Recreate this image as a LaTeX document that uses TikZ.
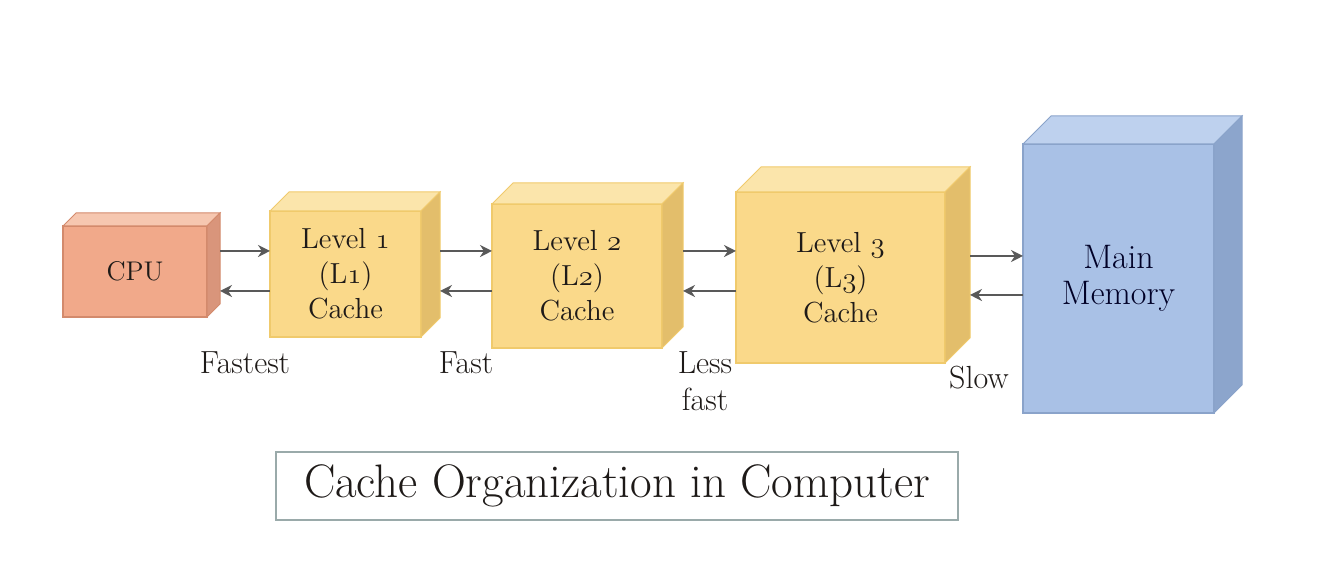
\documentclass[tikz,border=0pt]{standalone}
\usepackage{xcolor}
\usetikzlibrary{positioning}
\usetikzlibrary{calc}
\usetikzlibrary{arrows.meta}

\definecolor{cpufront}{HTML}{F1A98A}
\definecolor{cputop}{HTML}{F6C7B0}
\definecolor{cpuside}{HTML}{D9957B}
\definecolor{cpuline}{HTML}{D38A6C}
\definecolor{cachefront}{HTML}{FAD98A}
\definecolor{cachetop}{HTML}{FBE5AB}
\definecolor{cacheside}{HTML}{E3BE6B}
\definecolor{cacheline}{HTML}{F0CA6C}
\definecolor{memfront}{HTML}{A9C1E6}
\definecolor{memtop}{HTML}{BED1EE}
\definecolor{memside}{HTML}{8CA5CC}
\definecolor{memline}{HTML}{8AA3CA}
\definecolor{arrowgray}{HTML}{595959}
\definecolor{titleline}{HTML}{9AAAAA}
\definecolor{textdark}{HTML}{1E1A18}

% top and side faces of a box: node, depth, top, side, line
\newcommand{\cubefaces}[5]{%
  \filldraw[fill=#3,draw=#5,line width=0.5pt] (#1.north west) -- ++(#2,#2) -- ($(#1.north east)+(#2,#2)$) -- (#1.north east) -- cycle;
  \filldraw[fill=#4,draw=#5,line width=0.5pt] (#1.north east) -- ++(#2,#2) -- ($(#1.south east)+(#2,#2)$) -- (#1.south east) -- cycle;
}

\begin{document}
\begin{tikzpicture}[x=0.5pt,y=0.5pt,
    unit/.style={draw,line width=0.6pt,inner sep=2pt,outer sep=0pt,align=center,
        text=textdark,font=\fontsize{14.5}{17.5}\selectfont},
    flow/.style={-{Stealth[length=6pt,width=6pt]},line width=1.4pt,draw=arrowgray},
    lbl/.style={align=center,text=textdark,font=\fontsize{16}{18.5}\selectfont}]

    \useasboundingbox (0,0) rectangle (1330,582);

    \node[unit,fill=cpufront,draw=cpuline,minimum width=72pt,minimum height=45.5pt,
        font=\fontsize{13.5}{16}\selectfont] (cpu) at (135,310.5) {CPU};
    \node[unit,fill=cachefront,draw=cacheline,minimum width=75.5pt,minimum height=63pt,
        right=31.5pt of cpu,yshift=-1.25pt] (l1) {Level \legacyoldstylenums{1}\\(L\legacyoldstylenums{1})\\Cache};
    \node[unit,fill=cachefront,draw=cacheline,minimum width=85pt,minimum height=72pt,
        right=35.5pt of l1,yshift=-1pt] (l2) {Level \legacyoldstylenums{2}\\(L\legacyoldstylenums{2})\\Cache};
    \node[unit,fill=cachefront,draw=cacheline,minimum width=104.5pt,minimum height=85.5pt,
        right=37pt of l2,yshift=-0.75pt] (l3) {Level \legacyoldstylenums{3}\\(L\legacyoldstylenums{3})\\Cache};
    \node[unit,fill=memfront,draw=memline,minimum width=95.5pt,minimum height=134.5pt,
        right=39pt of l3,yshift=-0.5pt,text=black!85!blue,
        font=\fontsize{17}{18}\selectfont] (mem) {Main\\Memory};

    \cubefaces{cpu}{6.5pt}{cputop}{cpuside}{cpuline}
    \cubefaces{l1}{9.5pt}{cachetop}{cacheside}{cacheline}
    \cubefaces{l2}{10.5pt}{cachetop}{cacheside}{cacheline}
    \cubefaces{l3}{12.5pt}{cachetop}{cacheside}{cacheline}
    \cubefaces{mem}{14pt}{memtop}{memside}{memline}

    % arrow rows
    \coordinate (hi) at (0,331);
    \coordinate (lo) at (0,291);
    \coordinate (hi3) at (0,326);
    \coordinate (lo3) at (0,287);

    \draw[flow] ($(cpu.east |- hi)+(6.5pt,0)$) -- (l1.west |- hi);
    \draw[flow] (l1.west |- lo) -- ($(cpu.east |- lo)+(6.5pt,0)$);
    \draw[flow] ($(l1.east |- hi)+(9.5pt,0)$) -- (l2.west |- hi);
    \draw[flow] (l2.west |- lo) -- ($(l1.east |- lo)+(9.5pt,0)$);
    \draw[flow] ($(l2.east |- hi)+(10.5pt,0)$) -- (l3.west |- hi);
    \draw[flow] (l3.west |- lo) -- ($(l2.east |- lo)+(10.5pt,0)$);
    \draw[flow] ($(l3.east |- hi3)+(12.5pt,0)$) -- (mem.west |- hi3);
    \draw[flow] (mem.west |- lo3) -- ($(l3.east |- lo3)+(12.5pt,0)$);

    \node[lbl] (fastest) at (245,219) {Fastest};
    \node[lbl] (fast) at (466,219) {Fast};
    \node[lbl] (lessfast) at (705,201) {Less\\fast};
    \node[lbl] (slow) at (979,204) {Slow};

    \node[draw=titleline,line width=0.8pt,minimum width=341pt,minimum height=34pt,
        text=textdark,font=\fontsize{23.5}{26}\selectfont] (title) at (617,96) {Cache Organization in Computer};

\end{tikzpicture}
\end{document}
